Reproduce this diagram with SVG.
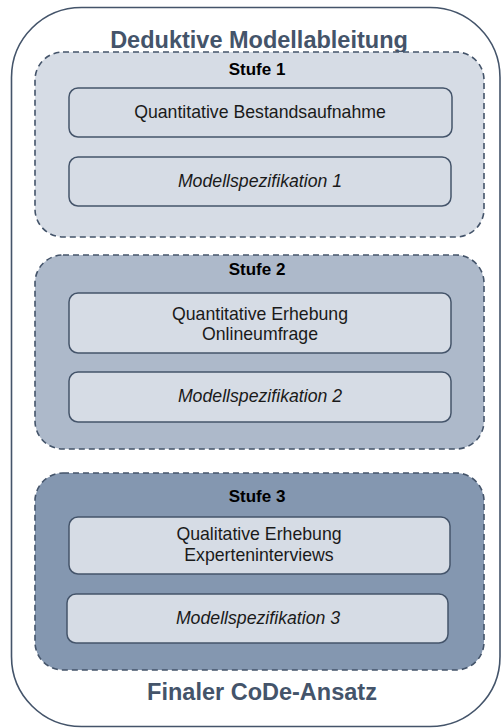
<svg xmlns="http://www.w3.org/2000/svg" width="502" height="728" viewBox="0 0 502 728">
<style>
.outer{fill:#fff;stroke:#44546A;stroke-width:1.6}
.stage{stroke:#44546A;stroke-width:1.6;stroke-dasharray:6 4}
.inner{fill:#D6DCE5;stroke:#44546A;stroke-width:1.5}
.big{font-family:"Liberation Sans",Arial,sans-serif;font-weight:bold;font-size:23.5px;fill:#44546A;text-anchor:middle}
.lbl{font-family:"Liberation Sans",Arial,sans-serif;font-weight:bold;font-size:17px;fill:#000;text-anchor:middle}
.txt{font-family:"Liberation Sans",Arial,sans-serif;font-size:17.7px;fill:#1a1a1a;text-anchor:middle}
.it{font-style:italic}
</style>
<g id="outer">
<rect class="outer" x="11.5" y="7.5" width="488.5" height="719" rx="70" ry="70"/>
<text class="big" x="259" y="48">Deduktive Modellableitung</text>
<text class="big" x="262" y="700">Finaler CoDe-Ansatz</text>
</g>
<g id="stufe1">
<rect class="stage" x="35" y="52" width="449" height="185" rx="28" ry="28" fill="#D6DCE5"/>
<text class="lbl" x="257" y="75">Stufe 1</text>
</g>
<g id="s1a">
<rect class="inner" x="69" y="88" width="383" height="49" rx="9" ry="9"/>
<text class="txt" x="260" y="118">Quantitative Bestandsaufnahme</text>
</g>
<g id="s1b">
<rect class="inner" x="69" y="157" width="382" height="49" rx="9" ry="9"/>
<text class="txt it" x="260" y="187">Modellspezifikation 1</text>
</g>
<g id="stufe2">
<rect class="stage" x="35" y="255" width="449" height="194" rx="28" ry="28" fill="#ADB9CA"/>
<text class="lbl" x="257" y="275">Stufe 2</text>
</g>
<g id="s2a">
<rect class="inner" x="69" y="293" width="382" height="60" rx="9" ry="9"/>
<text class="txt" x="260" y="320">Quantitative Erhebung</text>
<text class="txt" x="260" y="340">Onlineumfrage</text>
</g>
<g id="s2b">
<rect class="inner" x="69" y="372" width="382" height="50" rx="9" ry="9"/>
<text class="txt it" x="260" y="402">Modellspezifikation 2</text>
</g>
<g id="stufe3">
<rect class="stage" x="35" y="473" width="449" height="197" rx="28" ry="28" fill="#8497B0"/>
<text class="lbl" x="257" y="502">Stufe 3</text>
</g>
<g id="s3a">
<rect class="inner" x="69" y="517" width="381" height="57" rx="9" ry="9"/>
<text class="txt" x="259" y="540">Qualitative Erhebung</text>
<text class="txt" x="259" y="561">Experteninterviews</text>
</g>
<g id="s3b">
<rect class="inner" x="67" y="594" width="381" height="49" rx="9" ry="9"/>
<text class="txt it" x="258" y="624">Modellspezifikation 3</text>
</g>
</svg>
